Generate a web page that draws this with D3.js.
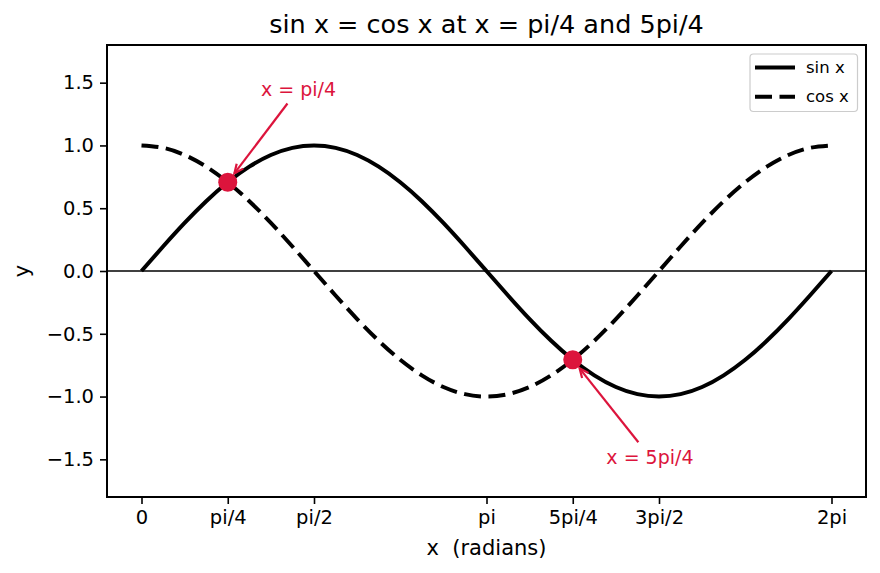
<!DOCTYPE html>
<html><head><meta charset="utf-8">
<script src="https://cdn.jsdelivr.net/npm/d3@7"></script>
<style>
html,body{margin:0;padding:0;background:#fff;}
svg text{font-family:"DejaVu Sans",sans-serif;}
</style></head>
<body><svg id="c" width="880" height="573"></svg>
<script>
// Data (radians, step pi/16)
const xVals = [0, 0.19635, 0.3927, 0.58905, 0.7854, 0.98175, 1.1781, 1.37445, 1.5708, 1.76715, 1.9635, 2.15985, 2.35619, 2.55254, 2.74889, 2.94524, 3.14159, 3.33794, 3.53429, 3.73064, 3.92699, 4.12334, 4.31969, 4.51604, 4.71239, 4.90874, 5.10509, 5.30144, 5.49779, 5.69414, 5.89049, 6.08684, 6.28319];
const sinVals = [0, 0.195, 0.383, 0.556, 0.707, 0.831, 0.924, 0.981, 1, 0.981, 0.924, 0.831, 0.707, 0.556, 0.383, 0.195, 0, -0.195, -0.383, -0.556, -0.707, -0.831, -0.924, -0.981, -1, -0.981, -0.924, -0.831, -0.707, -0.556, -0.383, -0.195, 0];
const cosVals = [1, 0.981, 0.924, 0.831, 0.707, 0.556, 0.383, 0.195, 0, -0.195, -0.383, -0.556, -0.707, -0.831, -0.924, -0.981, -1, -0.981, -0.924, -0.831, -0.707, -0.556, -0.383, -0.195, 0, 0.195, 0.383, 0.556, 0.707, 0.831, 0.924, 0.981, 1];
const seriesNames = ["sin x", "cos x"];
const xTickVals = [0, 0.7854, 1.5708, 3.14159, 3.92699, 4.71239, 6.28319];
const xTickLabels = ["0", "pi/4", "pi/2", "pi", "5pi/4", "3pi/2", "2pi"];
const yTickVals = [-1.5, -1.0, -0.5, 0, 0.5, 1.0, 1.5];
const pointX = [0.7854, 3.92699];
const pointY = [0.7071, -0.7071];
const annLabels = ["x = pi/4", "x = 5pi/4"];
const annTextX = [1.43, 4.63];
const annTextY = [1.45, -1.48];

const W = 880, H = 573;
const m = {left:107, right:14, top:45, bottom:76};
const svg = d3.select("#c");
svg.append("rect").attr("width",W).attr("height",H).attr("fill","#fff");
const x = d3.scaleLinear().domain([-0.05*6.28319, 6.28319*1.05]).range([m.left, W-m.right]);
const y = d3.scaleLinear().domain([-1.8, 1.8]).range([H-m.bottom, m.top]);
const red = "#dc143c";
const dash = "17,7.5";

// zero line
svg.append("line").attr("x1",x.range()[0]).attr("x2",x.range()[1])
  .attr("y1",y(0)).attr("y2",y(0)).attr("stroke","#000").attr("stroke-width",1.3);

const line = d3.line().x((d,i)=>x(xVals[i])).y(d=>y(d)).curve(d3.curveNatural);
svg.append("path").attr("d",line(sinVals)).attr("fill","none").attr("stroke","#000").attr("stroke-width",4);
svg.append("path").attr("d",line(cosVals)).attr("fill","none").attr("stroke","#000").attr("stroke-width",4)
  .attr("stroke-dasharray",dash);

// markers
pointX.forEach((px,i)=>{
  svg.append("circle").attr("cx",x(px)).attr("cy",y(pointY[i])).attr("r",9.5).attr("fill",red);
});

// annotations
annLabels.forEach((lab,i)=>{
  const tx = x(annTextX[i]), ty = y(annTextY[i]);
  svg.append("text").attr("x",tx).attr("y",ty).attr("text-anchor","middle")
    .attr("dominant-baseline","central").attr("font-size",19).attr("fill",red).text(lab);
  const px = x(pointX[i]), py = y(pointY[i]);
  const dx = px-tx, dy = py-ty, L = Math.hypot(dx,dy);
  const ux = dx/L, uy = dy/L;
  const t0 = 13/Math.abs(uy) + 2;
  const sx = tx+ux*t0, sy = ty+uy*t0;
  const ex = px-ux*11, ey = py-uy*11;
  svg.append("line").attr("x1",sx).attr("y1",sy).attr("x2",ex).attr("y2",ey)
    .attr("stroke",red).attr("stroke-width",2.2);
  const ang = Math.atan2(-uy,-ux), hl = 10, ha = 0.42;
  const p = `M${ex+hl*Math.cos(ang+ha)},${ey+hl*Math.sin(ang+ha)} L${ex},${ey} L${ex+hl*Math.cos(ang-ha)},${ey+hl*Math.sin(ang-ha)}`;
  svg.append("path").attr("d",p).attr("fill","none").attr("stroke",red).attr("stroke-width",2.2);
});

// axes
const xAxis = d3.axisBottom(x).tickValues(xTickVals).tickFormat((d,i)=>xTickLabels[i]).tickSize(7).tickPadding(6);
const gx = svg.append("g").attr("transform",`translate(0,${H-m.bottom})`).call(xAxis);
const fmt = d=> (d<0?"\u2212":"") + Math.abs(d).toFixed(1);
const yAxis = d3.axisLeft(y).tickValues(yTickVals).tickFormat(fmt).tickSize(7).tickPadding(6);
const gy = svg.append("g").attr("transform",`translate(${m.left},0)`).call(yAxis);
[gx,gy].forEach(g=>{
  g.select(".domain").remove();
  g.selectAll(".tick line").attr("stroke","#000").attr("stroke-width",1.6);
  g.selectAll(".tick text").attr("font-size",19.5).attr("fill","#000").attr("font-family","DejaVu Sans");
});
// frame
svg.append("rect").attr("x",m.left).attr("y",m.top).attr("width",W-m.left-m.right).attr("height",H-m.top-m.bottom)
  .attr("fill","none").attr("stroke","#000").attr("stroke-width",2);

// labels
svg.append("text").attr("x",(m.left+W-m.right)/2).attr("y",33).attr("text-anchor","middle")
  .attr("font-size",25.5).attr("fill","#000").text("sin x = cos x at x = pi/4 and 5pi/4");
svg.append("text").attr("x",(m.left+W-m.right)/2).attr("y",555).attr("text-anchor","middle")
  .attr("font-size",21).attr("fill","#000").attr("xml:space","preserve").style("white-space","pre").text("x  (radians)");
svg.append("text").attr("transform",`translate(28.5,${(m.top+H-m.bottom)/2}) rotate(-90)`).attr("text-anchor","middle")
  .attr("font-size",21).attr("fill","#000").text("y");

// legend
const lg = svg.append("g");
lg.append("rect").attr("x",750).attr("y",54).attr("width",107.5).attr("height",57.5).attr("rx",3.5)
  .attr("fill","#fff").attr("fill-opacity",0.8).attr("stroke","#cccccc").attr("stroke-width",1.2);
seriesNames.forEach((nm,i)=>{
  const ly = 67.5 + i*29.3;
  lg.append("line").attr("x1",755).attr("x2",795).attr("y1",ly).attr("y2",ly).attr("stroke","#000")
    .attr("stroke-width",4).attr("stroke-dasharray", i===1 ? dash : null);
  lg.append("text").attr("x",806).attr("y",ly).attr("dominant-baseline","central")
    .attr("font-size",16.5).attr("fill","#000").text(nm);
});
</script></body></html>
